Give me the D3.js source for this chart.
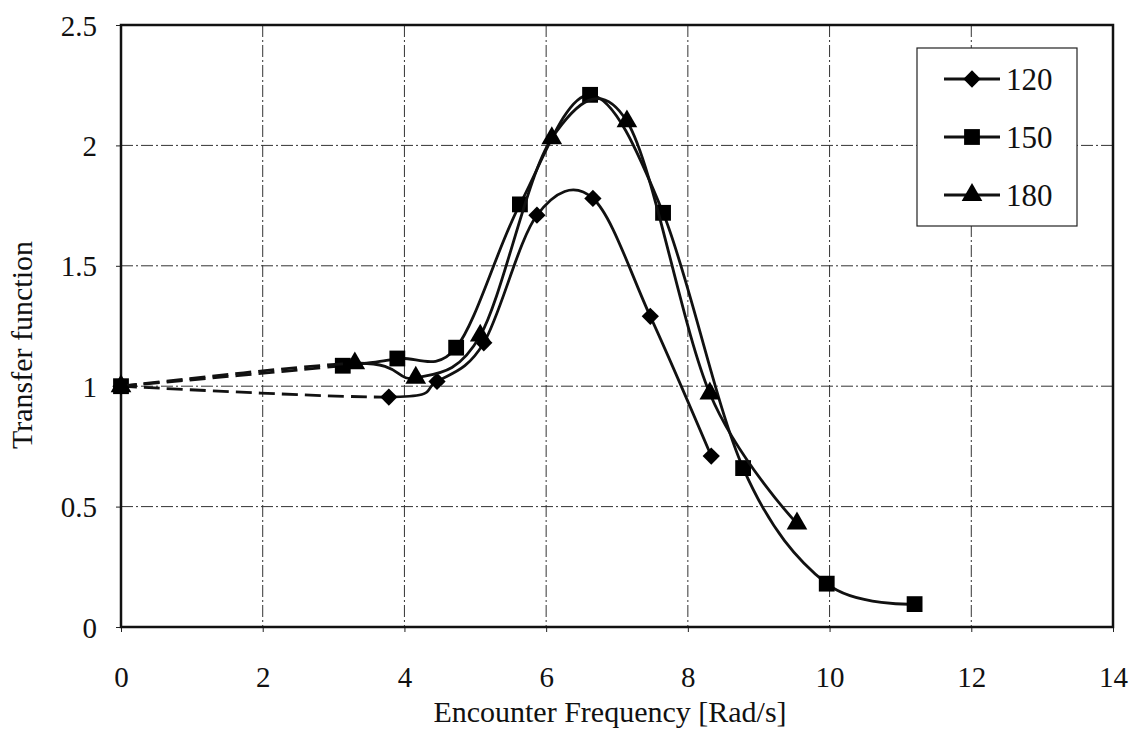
<!DOCTYPE html>
<html>
<head>
<meta charset="utf-8">
<script src="https://cdn.jsdelivr.net/npm/d3@7"></script>
<style>
  body { margin: 0; background: #fff; }
  text { font-family: "Liberation Serif", "Times New Roman", serif; fill: #111; }
</style>
</head>
<body>
<svg id="chart" width="1134" height="729"></svg>
<script>
// values
var xTicks = [0, 2, 4, 6, 8, 10, 12, 14];
var yTicks = [0, 0.5, 1, 1.5, 2, 2.5];
var yTickLabels = ['0', '0.5', '1', '1.5', '2', '2.5'];

var seriesNames = ['120', '150', '180'];
var seriesShapes = ['diamond', 'square', 'triangle'];

var x120 = [0, 3.78, 4.46, 5.12, 5.87, 6.66, 7.47, 8.33];
var y120 = [1, 0.955, 1.02, 1.18, 1.71, 1.78, 1.29, 0.71];

var x150 = [0, 3.13, 3.9, 4.73, 5.63, 6.62, 7.65, 8.78, 9.96, 11.2];
var y150 = [1, 1.085, 1.115, 1.16, 1.755, 2.21, 1.72, 0.66, 0.18, 0.095];

var x180 = [0, 3.3, 4.16, 5.07, 6.08, 7.14, 8.31, 9.54];
var y180 = [1, 1.095, 1.035, 1.21, 2.03, 2.1, 0.97, 0.43];

var seriesX = [x120, x150, x180];
var seriesY = [y120, y150, y180];

(function () {
var svg = d3.select('#chart');
var pLeft = 121, pRight = 1113, pTop = 25, pBottom = 627;

var x = d3.scaleLinear().domain([0, 14]).range([pLeft, pRight]);
var y = d3.scaleLinear().domain([0, 2.5]).range([pBottom, pTop]);

// grid (dash-dot like the scanned chart)
var grid = svg.append('g');
grid.selectAll('line.gx').data(xTicks.slice(1, -1)).enter().append('line')
    .attr('x1', function(d){ return x(d); }).attr('x2', function(d){ return x(d); })
    .attr('y1', pTop).attr('y2', pBottom)
    .attr('stroke', '#333').attr('stroke-width', 1)
    .attr('stroke-dasharray', '12,3,2,3');
grid.selectAll('line.gy').data(yTicks.slice(1, -1)).enter().append('line')
    .attr('y1', function(d){ return y(d); }).attr('y2', function(d){ return y(d); })
    .attr('x1', pLeft).attr('x2', pRight)
    .attr('stroke', '#333').attr('stroke-width', 1)
    .attr('stroke-dasharray', '12,3,2,3');

// axes
var xAxis = d3.axisBottom(x).tickValues(xTicks).tickSize(5).tickFormat(d3.format('d'));
var gx = svg.append('g').attr('transform', 'translate(0,' + pBottom + ')').call(xAxis);
gx.select('.domain').remove();
gx.selectAll('line').attr('stroke', '#222');
gx.selectAll('text').attr('dy', 0).attr('y', 60).style('font-size', '29px');

var yAxis = d3.axisLeft(y).tickValues(yTicks).tickSize(5)
    .tickFormat(function(d, i){ return yTickLabels[i]; });
var gy = svg.append('g').attr('transform', 'translate(' + pLeft + ',0)').call(yAxis);
gy.select('.domain').remove();
gy.selectAll('line').attr('stroke', '#222');
gy.selectAll('text').attr('x', -24).attr('dy', '0.35em').style('font-size', '29px');

// plot frame
svg.append('rect')
    .attr('x', pLeft).attr('y', pTop)
    .attr('width', pRight - pLeft).attr('height', pBottom - pTop)
    .attr('fill', 'none').attr('stroke', '#111').attr('stroke-width', 2.5);

// clip regions: dashed lead-in from 0 to the first measured point, solid after
var defs = svg.append('defs');
seriesX.forEach(function(xs, i) {
    defs.append('clipPath').attr('id', 'dash' + i).append('rect')
        .attr('x', pLeft).attr('y', 0).attr('width', x(xs[1]) - pLeft).attr('height', 729);
    defs.append('clipPath').attr('id', 'solid' + i).append('rect')
        .attr('x', x(xs[1])).attr('y', 0).attr('width', 1134 - x(xs[1])).attr('height', 729);
});

// Excel-style smoothing (uniform Catmull-Rom)
var line = d3.line()
    .x(function(d){ return x(d[0]); })
    .y(function(d){ return y(d[1]); })
    .curve(d3.curveCardinal.tension(0));

function symbolPath(shape) {
    if (shape === 'diamond') return d3.symbol().type(d3.symbolDiamond2).size(190)();
    if (shape === 'square') return d3.symbol().type(d3.symbolSquare).size(250)();
    return d3.symbol().type(d3.symbolTriangle).size(185)();
}

seriesX.forEach(function(xs, i) {
    var pts = xs.map(function(v, k){ return [v, seriesY[i][k]]; });
    var g = svg.append('g');
    g.append('path').datum(pts).attr('d', line)
        .attr('fill', 'none').attr('stroke', '#111').attr('stroke-width', 2.8)
        .attr('stroke-dasharray', '16,7')
        .attr('clip-path', 'url(#dash' + i + ')');
    g.append('path').datum(pts).attr('d', line)
        .attr('fill', 'none').attr('stroke', '#111').attr('stroke-width', 2.8)
        .attr('clip-path', 'url(#solid' + i + ')');
    g.selectAll('path.m').data(pts).enter().append('path')
        .attr('transform', function(d){ return 'translate(' + x(d[0]) + ',' + y(d[1]) + ')'; })
        .attr('d', symbolPath(seriesShapes[i]))
        .attr('fill', '#000');
});

// legend
var legend = svg.append('g');
legend.append('rect')
    .attr('x', 917).attr('y', 48).attr('width', 160).attr('height', 178)
    .attr('fill', '#fff').attr('stroke', '#222').attr('stroke-width', 1.2);
seriesNames.forEach(function(name, i) {
    var cy = 79 + i * 58;
    legend.append('line').attr('x1', 944).attr('x2', 1000).attr('y1', cy).attr('y2', cy)
        .attr('stroke', '#111').attr('stroke-width', 2.8);
    legend.append('path').attr('transform', 'translate(972,' + cy + ')')
        .attr('d', symbolPath(seriesShapes[i])).attr('fill', '#000');
    legend.append('text').attr('x', 1006).attr('y', cy).attr('dy', '0.35em')
        .style('font-size', '31px').text(name);
});

// axis titles
svg.append('text').attr('x', 610).attr('y', 722).attr('text-anchor', 'middle')
    .style('font-size', '30px').text('Encounter Frequency [Rad/s]');
svg.append('text').attr('transform', 'translate(32,345) rotate(-90)')
    .attr('text-anchor', 'middle').style('font-size', '30px').text('Transfer function');
})();
</script>
</body>
</html>
